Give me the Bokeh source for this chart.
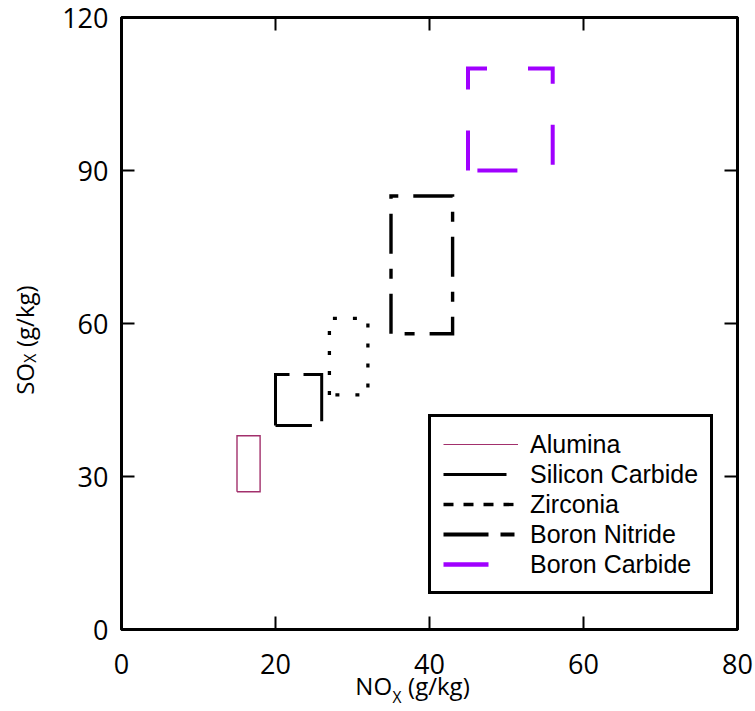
from bokeh.plotting import figure
from bokeh.models import (Range1d, FixedTicker, LinearAxis, Legend, LegendItem,
                          CustomJSTickFormatter)
from bokeh.embed import file_html
from bokeh.resources import INLINE

# ---- data ----
materials = ["Alumina", "Silicon Carbide", "Zirconia", "Boron Nitride", "Boron Carbide"]
nox_min = [15, 20, 27, 35, 45]
nox_max = [18, 26, 32, 43, 56]
sox_min = [27, 40, 46, 58, 90]
sox_max = [38, 50, 61, 85, 110]
x_ticks = [0, 20, 40, 60, 80]
y_ticks = [0, 30, 60, 90, 120]
x_title = ["NO", "X", "(g/kg)"]
y_title = ["SO", "X", "(g/kg)"]

# ---- styles ----
colors = ["#a2306c", "black", "black", "black", "#a000ff"]
widths = [1.4, 3, 3.3, 3.4, 4]
rect_dash = ["solid", "65 14", "4 16", "40 15 10 15", "40 41"]
leg_dash = ["solid", "63 12", "10 10", "45 12 14 12", "45 40"]
leg_widths = [1.2, 3, 3.3, 3.8, 4.5]

W, H = 755, 711
BL, BR, BT, BB = 121, 18, 17, 82
p = figure(width=W, height=H, output_backend="svg", toolbar_location=None,
           x_range=Range1d(0, 80), y_range=Range1d(0, 120),
           min_border_left=BL, min_border_right=BR, min_border_top=BT,
           min_border_bottom=BB)
p.background_fill_color = "white"
p.border_fill_color = "white"
p.outline_line_color = "black"
p.outline_line_width = 3
p.xgrid.visible = False
p.ygrid.visible = False

font = "Open Sans"
fw = W - BL - BR
fh = H - BT - BB


def px_to_x(px):
    return (px - BL) / fw * 80


def py_to_y(py):
    return (H - BB - py) / fh * 120


def style_axis(ax, ticks, labels=True):
    ax.ticker = FixedTicker(ticks=ticks)
    ax.axis_line_width = 3
    ax.axis_line_color = "black"
    ax.major_tick_in = 13
    ax.major_tick_out = 0
    ax.major_tick_line_width = 2
    ax.minor_tick_line_color = None
    ax.major_label_text_font = font
    ax.major_label_text_color = "black"
    if labels:
        ax.major_label_text_font_size = "27px"
    else:
        ax.major_label_text_font_size = "0px"
        ax.major_label_standoff = 0
        ax.formatter = CustomJSTickFormatter(code="return ''")


style_axis(p.xaxis[0], x_ticks)
style_axis(p.yaxis[0], y_ticks)
p.xaxis[0].major_label_standoff = 24
p.yaxis[0].major_label_standoff = 13

top = LinearAxis()
style_axis(top, x_ticks, labels=False)
p.add_layout(top, "above")
right = LinearAxis()
style_axis(right, y_ticks, labels=False)
p.add_layout(right, "right")

# ---- rectangles ----
for i, m in enumerate(materials):
    xs = [nox_min[i], nox_min[i], nox_max[i], nox_max[i], nox_min[i]]
    ys = [sox_min[i], sox_max[i], sox_max[i], sox_min[i], sox_min[i]]
    p.line(xs, ys, line_color=colors[i], line_width=widths[i],
           line_dash=rect_dash[i], line_join="miter")

# ---- legend (separate sample renderers, no drawable points) ----
nan = float("nan")
items = []
for i, m in enumerate(materials):
    r = p.line([nan, nan], [nan, nan], line_color=colors[i], line_width=leg_widths[i],
               line_dash=leg_dash[i])
    items.append(LegendItem(label=m, renderers=[r]))

legend = Legend(items=items, location=(307, 35), glyph_width=75, glyph_height=30,
                label_height=30, label_standoff=12, padding=12, spacing=0,
                label_text_font="Liberation Sans", label_text_font_size="25px",
                label_text_color="black",
                border_line_color="black", border_line_width=3, border_line_alpha=1.0,
                background_fill_color="white", background_fill_alpha=1.0)
p.add_layout(legend)


# ---- axis titles with subscripts, built from text-only axes ----
def title_axis(cls, positions, names, size, standoff, orientation="horizontal"):
    ax = cls()
    ax.ticker = FixedTicker(ticks=positions)
    ax.formatter = CustomJSTickFormatter(args=dict(names=names), code="return names[index]")
    ax.axis_line_color = None
    ax.major_tick_line_color = None
    ax.minor_tick_line_color = None
    ax.major_tick_in = 0
    ax.major_tick_out = 0
    ax.major_label_text_font = font
    ax.major_label_text_font_size = size
    ax.major_label_text_color = "black"
    ax.major_label_standoff = standoff
    ax.major_label_orientation = orientation
    return ax


big, small = "24px", "15.5px"
# horizontal title: centres of "NO" and "(g/kg)", then subscript "X"
p.add_layout(title_axis(LinearAxis, [px_to_x(373.2), px_to_x(438.4)],
                        [x_title[0], x_title[2]], big, -8), "below")
p.add_layout(title_axis(LinearAxis, [px_to_x(396.5)], [x_title[1]], small, -19), "below")
# vertical title
p.add_layout(title_axis(LinearAxis, [py_to_y(378.4), py_to_y(315.7)],
                        [y_title[0], y_title[2]], big, 18, "vertical"), "left")
p.add_layout(title_axis(LinearAxis, [py_to_y(357.7)], [y_title[1]], small, -36,
                        "vertical"), "left")

open("out.html", "w").write(file_html(p, INLINE))
